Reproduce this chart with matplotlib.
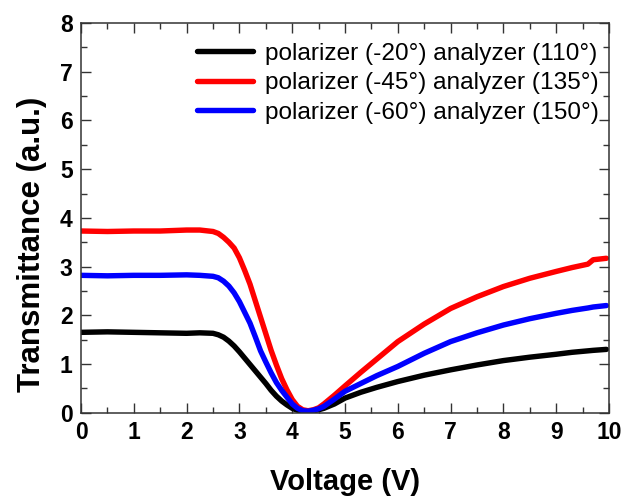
import numpy as np
import matplotlib
matplotlib.use("Agg")
import matplotlib.pyplot as plt
from matplotlib.ticker import MultipleLocator

plt.rcParams['font.family'] = ['Liberation Sans', 'DejaVu Sans']

# DATA

voltage = [0.0, 0.5, 1.0, 1.5, 2.0, 2.25, 2.5, 2.6, 2.7, 2.8, 2.9, 3.0,
           3.1, 3.2, 3.3, 3.4, 3.5, 3.6, 3.7, 3.8, 3.9, 4.0, 4.1, 4.2,
           4.3, 4.4, 4.5, 4.6, 4.8, 5.0, 5.3, 5.6, 6.0, 6.5, 7.0, 7.5,
           8.0, 8.5, 9.0, 9.3, 9.6, 9.7, 9.95]

t_20 = [1.65, 1.66, 1.65, 1.64, 1.63, 1.64, 1.63, 1.60, 1.55, 1.47, 1.37, 1.25,
        1.12, 0.99, 0.86, 0.73, 0.60, 0.46, 0.34, 0.24, 0.16, 0.09, 0.05, 0.03,
        0.02, 0.04, 0.06, 0.09, 0.18, 0.30, 0.42, 0.52, 0.64, 0.77, 0.88, 0.98,
        1.07, 1.14, 1.20, 1.24, 1.27, 1.28, 1.30]

t_45 = [3.73, 3.72, 3.73, 3.73, 3.75, 3.75, 3.72, 3.68, 3.60, 3.50, 3.38, 3.18,
        2.92, 2.64, 2.30, 1.96, 1.62, 1.28, 0.98, 0.70, 0.47, 0.27, 0.13, 0.06,
        0.04, 0.06, 0.10, 0.18, 0.36, 0.55, 0.83, 1.10, 1.46, 1.82, 2.14, 2.38,
        2.59, 2.76, 2.90, 2.98, 3.05, 3.14, 3.17]

t_60 = [2.82, 2.81, 2.82, 2.82, 2.83, 2.82, 2.80, 2.77, 2.70, 2.60, 2.46, 2.28,
        2.06, 1.84, 1.56, 1.27, 1.04, 0.82, 0.62, 0.46, 0.32, 0.18, 0.09, 0.04,
        0.03, 0.05, 0.08, 0.13, 0.28, 0.44, 0.60, 0.76, 0.95, 1.22, 1.46, 1.64,
        1.80, 1.93, 2.04, 2.10, 2.15, 2.17, 2.20]

labels = [
    "polarizer (-20°) analyzer (110°)",
    "polarizer (-45°) analyzer (135°)",
    "polarizer (-60°) analyzer (150°)",
]
colors = ["black", "#ff0000", "#0000ff"]

# PLOT

fig = plt.figure(figsize=(6.34, 4.97), dpi=100)
ax = fig.add_axes([0.1278, 0.1696, 0.8328, 0.7841])

for series, label, color in zip([t_20, t_45, t_60], labels, colors):
    ax.plot(voltage, series, color=color, linewidth=3.9,
            solid_capstyle='round', solid_joinstyle='round', label=label)

ax.set_xlim(0, 10)
ax.set_ylim(0, 8)

ax.xaxis.set_major_locator(MultipleLocator(1))
ax.xaxis.set_minor_locator(MultipleLocator(0.5))
ax.yaxis.set_major_locator(MultipleLocator(1))
ax.yaxis.set_minor_locator(MultipleLocator(0.5))

ax.tick_params(which='both', direction='in', top=True, right=True,
               width=1.0, color='#333333')
ax.tick_params(which='major', length=7, labelsize=16.5, pad=6)
ax.tick_params(which='minor', length=4)

for lab in ax.get_xticklabels() + ax.get_yticklabels():
    lab.set_fontweight('bold')

for spine in ax.spines.values():
    spine.set_linewidth(1.1)
    spine.set_color('#333333')

ax.set_xlabel("Voltage (V)", fontsize=21, fontweight='bold', labelpad=17.5)
ax.set_ylabel("Transmittance (a.u.)", fontsize=22.5, fontweight='bold')
ax.yaxis.set_label_coords(-0.064, 0.432)

ax.legend(loc='upper right', bbox_to_anchor=(1.0, 0.974), frameon=False,
          fontsize=17.6, handlelength=2.3, handletextpad=0.5,
          labelspacing=0.3, borderaxespad=0.1, borderpad=0.3)

fig.savefig("out.png", dpi=100)
